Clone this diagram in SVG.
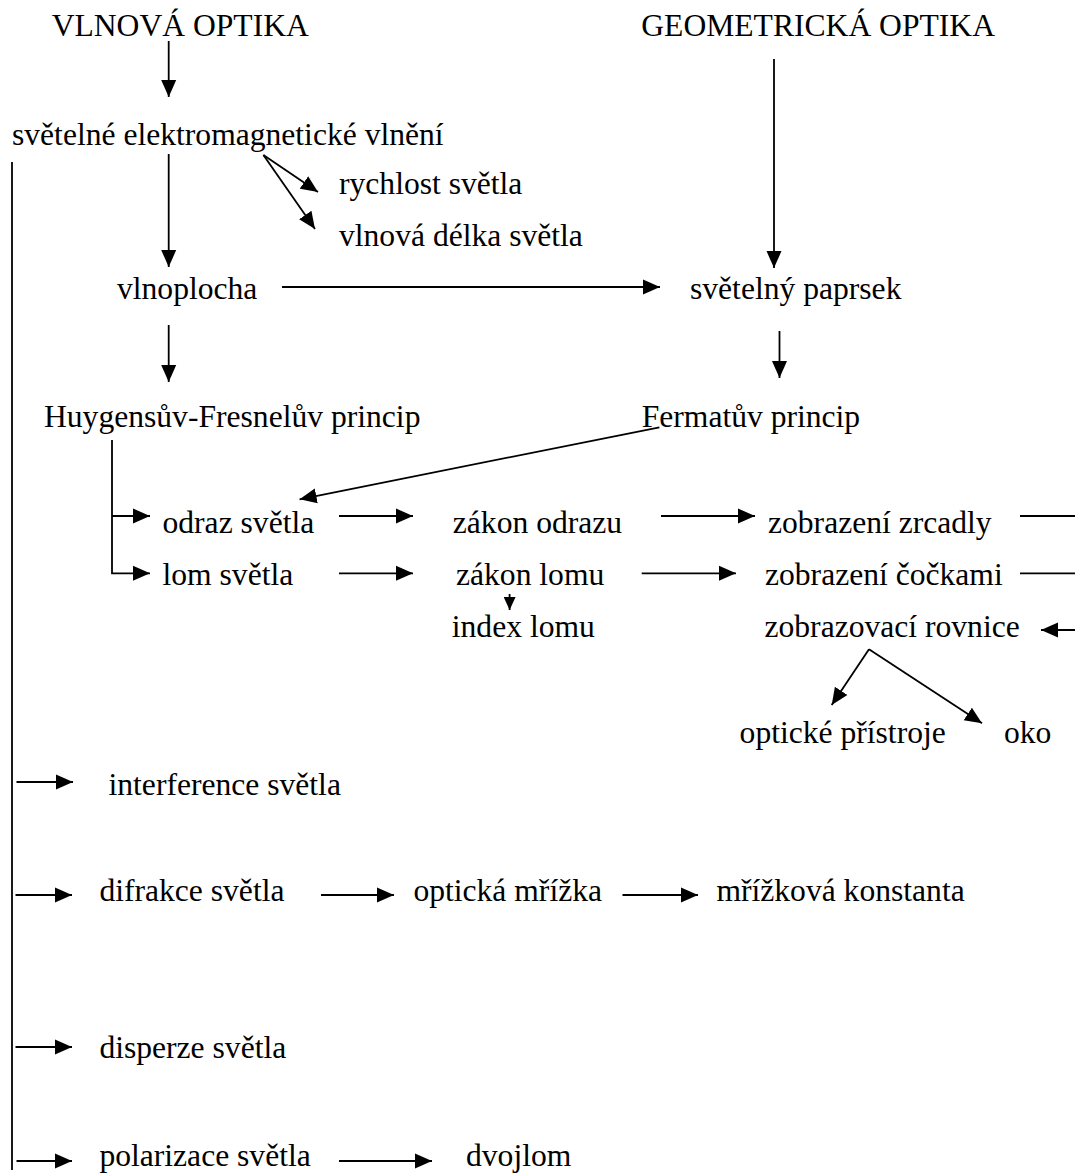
<svg xmlns="http://www.w3.org/2000/svg" width="1075" height="1174" viewBox="0 0 1075 1174">
<style>
  text { font-family: "Liberation Serif", "Times New Roman", serif; font-size: 31.6px; fill: #000; }
  .c { stroke: #000; stroke-width: 1.8; fill: none; }
  .a { marker-end: url(#ah); }
  .s { marker-end: url(#sm); }
</style>
<defs>
  <marker id="ah" markerUnits="userSpaceOnUse" markerWidth="18" markerHeight="16" refX="17" refY="8" orient="auto">
    <path d="M0,0.5 L17,8 L0,15.5 z" fill="#000"/>
  </marker>
  <marker id="sm" markerUnits="userSpaceOnUse" markerWidth="14" markerHeight="12" refX="13" refY="6" orient="auto">
    <path d="M0,0 L13,6 L0,12 z" fill="#000"/>
  </marker>
</defs>
<rect width="1075" height="1174" fill="#fff"/>

<g id="connectors">
  <line class="c a" x1="168.7" y1="41" x2="168.7" y2="97"/>
  <line class="c a" x1="774" y1="59" x2="774" y2="268"/>
  <line class="c a" x1="168.7" y1="154" x2="168.7" y2="267"/>
  <line class="c a" x1="263.4" y1="155" x2="318" y2="192"/>
  <line class="c a" x1="263.4" y1="155" x2="315" y2="229"/>
  <line class="c a" x1="282" y1="287" x2="660" y2="287"/>
  <line class="c a" x1="168.7" y1="325" x2="168.7" y2="382"/>
  <line class="c a" x1="779.5" y1="331" x2="779.5" y2="378"/>
  <line class="c a" x1="659.4" y1="427.3" x2="299.6" y2="499.3"/>
  <path class="c a" d="M112,440 V573.3 H150"/>
  <line class="c a" x1="112" y1="516" x2="150" y2="516"/>
  <line class="c a" x1="339" y1="516" x2="413" y2="516"/>
  <line class="c a" x1="339" y1="573.3" x2="413" y2="573.3"/>
  <line class="c s" x1="509.6" y1="594" x2="509.6" y2="610"/>
  <line class="c a" x1="661" y1="516" x2="755" y2="516"/>
  <line class="c a" x1="641.7" y1="573.3" x2="736" y2="573.3"/>
  <line class="c" x1="1020" y1="516" x2="1075" y2="516"/>
  <line class="c" x1="1020" y1="573.3" x2="1075" y2="573.3"/>
  <line class="c a" x1="1075" y1="630" x2="1041" y2="630"/>
  <line class="c a" x1="869" y1="649.3" x2="831.7" y2="705"/>
  <line class="c a" x1="869" y1="649.3" x2="982" y2="723.3"/>
  <line class="c" x1="12" y1="162" x2="12" y2="1170"/>
  <line class="c a" x1="16.5" y1="782" x2="73" y2="782"/>
  <line class="c a" x1="15.5" y1="895" x2="72" y2="895"/>
  <line class="c a" x1="321" y1="895" x2="394" y2="895"/>
  <line class="c a" x1="622.5" y1="895" x2="698" y2="895"/>
  <line class="c a" x1="15.5" y1="1047" x2="72" y2="1047"/>
  <line class="c a" x1="16.5" y1="1161" x2="72" y2="1161"/>
  <line class="c a" x1="339" y1="1161" x2="432" y2="1161"/>
</g>

<g id="vlnova-optika"><text x="51.7" y="36">VLNOVÁ OPTIKA</text></g>
<g id="geometricka-optika"><text x="641.3" y="36">GEOMETRICKÁ OPTIKA</text></g>
<g id="svetelne-vlneni"><text x="12" y="145">světelné elektromagnetické vlnění</text></g>
<g id="rychlost-svetla"><text x="339" y="194">rychlost světla</text></g>
<g id="vlnova-delka"><text x="339" y="246">vlnová délka světla</text></g>
<g id="vlnoplocha"><text x="117" y="299">vlnoplocha</text></g>
<g id="svetelny-paprsek"><text x="690" y="299">světelný paprsek</text></g>
<g id="huygens"><text x="44" y="426.7">Huygensův-Fresnelův princip</text></g>
<g id="fermat"><text x="641.7" y="426.7">Fermatův princip</text></g>
<g id="odraz-svetla"><text x="162.5" y="533">odraz světla</text></g>
<g id="lom-svetla"><text x="162.5" y="585">lom světla</text></g>
<g id="zakon-odrazu"><text x="452.8" y="533">zákon odrazu</text></g>
<g id="zakon-lomu"><text x="456" y="585">zákon lomu</text></g>
<g id="index-lomu"><text x="451.8" y="636.7">index lomu</text></g>
<g id="zobrazeni-zrcadly"><text x="768" y="533">zobrazení zrcadly</text></g>
<g id="zobrazeni-cockami"><text x="765" y="585">zobrazení čočkami</text></g>
<g id="zobrazovaci-rovnice"><text x="764.5" y="636.7">zobrazovací rovnice</text></g>
<g id="opticke-pristroje"><text x="739.6" y="743.3">optické přístroje</text></g>
<g id="oko"><text x="1004" y="743.3">oko</text></g>
<g id="interference"><text x="108.5" y="795">interference světla</text></g>
<g id="difrakce"><text x="99.4" y="901">difrakce světla</text></g>
<g id="opticka-mrizka"><text x="413.4" y="901">optická mřížka</text></g>
<g id="mrizkova-konstanta"><text x="716.4" y="901">mřížková konstanta</text></g>
<g id="disperze"><text x="99.4" y="1058">disperze světla</text></g>
<g id="polarizace"><text x="99.4" y="1166">polarizace světla</text></g>
<g id="dvojlom"><text x="466" y="1166">dvojlom</text></g>
</svg>
